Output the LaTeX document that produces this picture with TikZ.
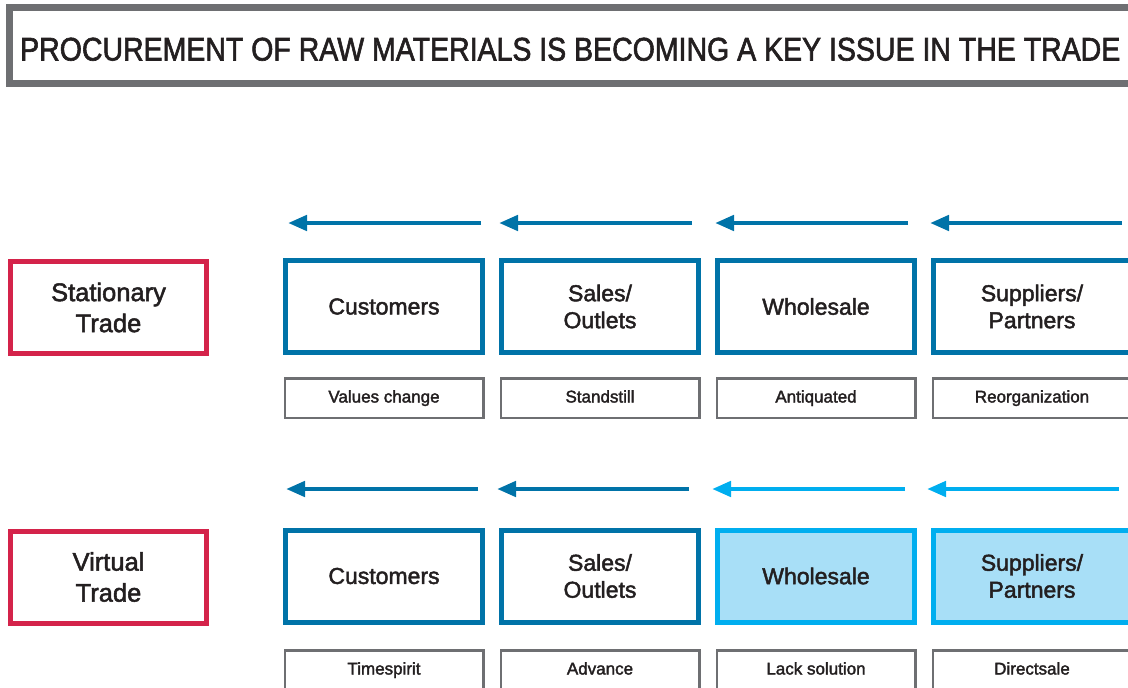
\documentclass[tikz,border=0pt]{standalone}
\usepackage{fontspec}
\setmainfont{Liberation Sans}[FakeBold=2]
\usetikzlibrary{arrows.meta}
\definecolor{dblue}{RGB}{0,115,168}
\definecolor{lblue}{RGB}{0,174,239}
\definecolor{lfill}{RGB}{168,223,247}
\definecolor{tred}{RGB}{212,35,74}
\definecolor{tgray}{RGB}{110,111,114}
\definecolor{txt}{RGB}{35,31,32}
\tikzset{
  titlebox/.style={draw=tgray, line width=7pt, rectangle, minimum width=1130pt, minimum height=76pt, inner sep=0pt},
  tradebox/.style={draw=tred, line width=5pt, rectangle, minimum width=196pt, minimum height=92pt, inner sep=0pt, align=center, text=txt, font=\fontsize{25.5}{31}\selectfont},
  stagebox/.style={draw=dblue, line width=5pt, rectangle, minimum width=197pt, minimum height=92pt, inner sep=0pt, align=center, text=txt, font=\fontsize{23}{27}\selectfont},
  hotbox/.style={stagebox, draw=lblue, fill=lfill},
  notebox/.style={draw=tgray, line width=2.5pt, rectangle, minimum width=198.5pt, minimum height=39.5pt, inner sep=0pt, text height=12.5pt, text depth=3.5pt, text=txt, font=\fontsize{17}{20}\selectfont},
  flowarrow/.style={draw=dblue, line width=4.5pt, -{Triangle[length=19pt, width=15pt]}},
  hotarrow/.style={flowarrow, draw=lblue}
}
\begin{document}
\begin{tikzpicture}[x=1pt, y=-1pt]
\useasboundingbox (0,0) rectangle (1128,688);
\clip (0,0) rectangle (1128,688);
\fill[white] (0,0) rectangle (1128,688);
% title
\node[titlebox] (title) at (9.5+565, 45.5) {};
\node[text=txt, anchor=base west, inner sep=0pt] (titletext) at (20, 60.5) {\resizebox{1100pt}{22.8pt}{\fontsize{30}{36}\selectfont PROCUREMENT OF RAW MATERIALS IS BECOMING A KEY ISSUE IN THE TRADE}};
% trade labels
\node[tradebox] (st) at (108.5, 307.5) {Stationary\\Trade};
\node[tradebox] (vt) at (108.5, 577) {Virtual\\Trade};
% row 1
\node[stagebox] (c1) at (384, 306.5) {Customers};
\node[stagebox] (s1) at (600, 306.5) {Sales/\\Outlets};
\node[stagebox] (w1) at (816, 306.5) {Wholesale};
\node[stagebox] (p1) at (1032, 306.5) {Suppliers/\\Partners};
\node[notebox] (nc1) at (384, 398) {Values change};
\node[notebox] (ns1) at (600, 398) {Standstill};
\node[notebox] (nw1) at (816, 398) {Antiquated};
\node[notebox] (np1) at (1032, 398) {Reorganization};
% row 2
\node[stagebox] (c2) at (384, 576) {Customers};
\node[stagebox] (s2) at (600, 576) {Sales/\\Outlets};
\node[hotbox] (w2) at (816, 576) {Wholesale};
\node[hotbox] (p2) at (1032, 576) {Suppliers/\\Partners};
\node[notebox] (nc2) at (384, 670) {Timespirit};
\node[notebox] (ns2) at (600, 670) {Advance};
\node[notebox] (nw2) at (816, 670) {Lack solution};
\node[notebox] (np2) at (1032, 670) {Directsale};
% arrow end points row 1
\coordinate (a1s) at (481, 223); \coordinate (a1e) at (288, 223);
\coordinate (a2s) at (692, 223); \coordinate (a2e) at (499, 223);
\coordinate (a3s) at (908, 223); \coordinate (a3e) at (715, 223);
\coordinate (a4s) at (1122, 223); \coordinate (a4e) at (930, 223);
% arrow end points row 2
\coordinate (b1s) at (478, 489); \coordinate (b1e) at (286, 489);
\coordinate (b2s) at (689, 489); \coordinate (b2e) at (497, 489);
\coordinate (b3s) at (905, 489); \coordinate (b3e) at (712, 489);
\coordinate (b4s) at (1119, 489); \coordinate (b4e) at (927, 489);
\draw[flowarrow] (a1s) -- (a1e);
\draw[flowarrow] (a2s) -- (a2e);
\draw[flowarrow] (a3s) -- (a3e);
\draw[flowarrow] (a4s) -- (a4e);
\draw[flowarrow] (b1s) -- (b1e);
\draw[flowarrow] (b2s) -- (b2e);
\draw[hotarrow] (b3s) -- (b3e);
\draw[hotarrow] (b4s) -- (b4e);
\end{tikzpicture}
\end{document}
